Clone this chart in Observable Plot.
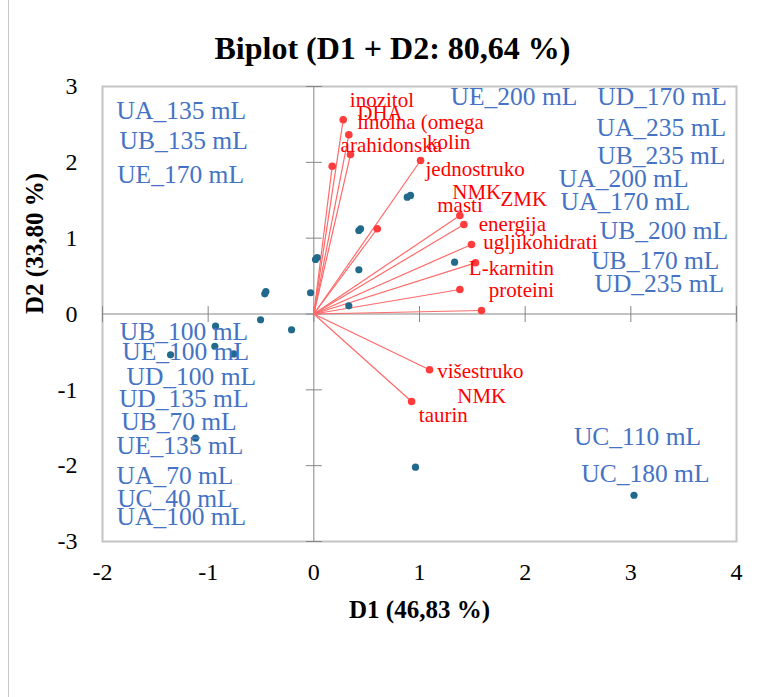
<!DOCTYPE html>
<html>
<head>
<meta charset="utf-8">
<script src="https://cdn.jsdelivr.net/npm/d3@7"></script>
<script src="https://cdn.jsdelivr.net/npm/@observablehq/plot@0.6"></script>
<style>
  html, body { margin: 0; padding: 0; background: #fff; }
  #wrap { position: relative; width: 764px; height: 697px; overflow: hidden; }
  #edge { position: absolute; left: 8px; top: 0; width: 1px; height: 697px; background: #c8c8c8; }
  #chart { position: absolute; left: 0; top: 0; }
  #chart svg text { font-family: "Liberation Serif", "Times New Roman", "DejaVu Serif", serif; }
</style>
</head>
<body>
<div id="wrap"><div id="edge"></div><div id="chart"></div></div>
<script>
// ---- Data ----
const titleText = "Biplot (D1 + D2: 80,64 %)";
const xTitle = "D1 (46,83 %)";
const yTitle = "D2 (33,80 %)";
const xTicks = [-2, -1, 0, 1, 2, 3, 4];
const yTicks = [-3, -2, -1, 0, 1, 2, 3];

// observation scores (blue dots)
const obsX = [0.016, 0.032, 0.426, 0.442, 0.426, 0.331, -0.031, -0.464, -0.454, -0.504, -0.211,
              -0.930, -0.937, -0.757, -1.356, -1.120, 0.884, 0.915, 1.332, 0.962, 3.030];
const obsY = [0.719, 0.745, 1.101, 1.124, 0.583, 0.108, 0.280, 0.266, 0.297, -0.076, -0.208,
              -0.161, -0.425, -0.527, -0.538, -1.638, 1.540, 1.563, 0.683, -2.020, -2.390];

// observation labels (as placed on the chart)
const obsLabels = [
  {label: "UA_135 mL", x: -1.867, y: 2.574},
  {label: "UB_135 mL", x: -1.839, y: 2.179},
  {label: "UE_170 mL", x: -1.861, y: 1.721},
  {label: "UE_200 mL", x: 1.294, y: 2.750},
  {label: "UD_170 mL", x: 2.682, y: 2.750},
  {label: "UA_235 mL", x: 2.675, y: 2.341},
  {label: "UB_235 mL", x: 2.682, y: 1.981},
  {label: "UA_200 mL", x: 2.319, y: 1.681},
  {label: "UA_170 mL", x: 2.335, y: 1.365},
  {label: "UB_200 mL", x: 2.707, y: 0.992},
  {label: "UB_170 mL", x: 2.625, y: 0.596},
  {label: "UD_235 mL", x: 2.656, y: 0.287},
  {label: "UB_100 mL", x: -1.836, y: -0.340},
  {label: "UE_100 mL", x: -1.813, y: -0.613},
  {label: "UD_100 mL", x: -1.773, y: -0.930},
  {label: "UD_135 mL", x: -1.845, y: -1.229},
  {label: "UB_70 mL", x: -1.823, y: -1.527},
  {label: "UE_135 mL", x: -1.867, y: -1.844},
  {label: "UA_70 mL", x: -1.867, y: -2.239},
  {label: "UC_40 mL", x: -1.861, y: -2.539},
  {label: "UA_100 mL", x: -1.867, y: -2.789},
  {label: "UC_110 mL", x: 2.461, y: -1.734},
  {label: "UC_180 mL", x: 2.531, y: -2.218}
];

// variable loadings (red vectors)
const varX = [0.278, 0.331, 0.347, 0.174, 1.010, 0.600, 1.382, 1.420, 1.492, 1.530, 1.382, 1.587, 1.095, 0.925];
const varY = [2.561, 2.363, 2.103, 1.949, 2.024, 1.124, 1.299, 1.180, 0.917, 0.675, 0.323, 0.046, -0.736, -1.154];

// variable labels (as placed on the chart)
const varLabels = [
  {label: "inozitol", x: 0.341, y: 2.736},
  {label: "DHA", x: 0.411, y: 2.561},
  {label: "linolna (omega", x: 0.411, y: 2.442},
  {label: "arahidonska", x: 0.253, y: 2.134},
  {label: "kolin", x: 1.072, y: 2.178},
  {label: "jednostruko", x: 1.057, y: 1.826},
  {label: "NMK", x: 1.310, y: 1.519},
  {label: "ZMK", x: 1.767, y: 1.418},
  {label: "masti", x: 1.168, y: 1.342},
  {label: "energija", x: 1.561, y: 1.101},
  {label: "ugljikohidrati", x: 1.603, y: 0.860},
  {label: "L-karnitin", x: 1.467, y: 0.508},
  {label: "proteini", x: 1.656, y: 0.222},
  {label: "višestruko", x: 1.168, y: -0.847},
  {label: "NMK", x: 1.357, y: -1.176},
  {label: "taurin", x: 0.994, y: -1.418}
];

// ---- Build tables ----
const obs = obsX.map((x, i) => ({x, y: obsY[i]}));
const vars = varX.map((x, i) => ({x, y: varY[i]}));

const vTick = {draw(ctx, size) { const r = Math.sqrt(size / Math.PI); ctx.moveTo(0, -r); ctx.lineTo(0, r); }};
const hTick = {draw(ctx, size) { const r = Math.sqrt(size / Math.PI); ctx.moveTo(-r, 0); ctx.lineTo(r, 0); }};
const fmt = d => (d < 0 ? "-" + Math.abs(d) : String(d));

const font = "Liberation Serif";

const chart = Plot.plot({
  width: 764,
  height: 697,
  marginLeft: 102,
  marginRight: 28,
  marginTop: 86,
  marginBottom: 156,
  style: {fontFamily: "'Liberation Serif', serif", fontSize: "24px", color: "#000", background: "transparent", overflow: "visible"},
  x: {domain: [-2, 4]},
  y: {domain: [-3, 3]},
  marks: [
    Plot.frame({stroke: "#c4c4c4", strokeWidth: 2}),
    Plot.axisX(xTicks, {tickSize: 0, tickPadding: 21, tickFormat: fmt, fontSize: 24, fontFamily: font, label: null}),
    Plot.axisY(yTicks, {tickSize: 0, tickPadding: 25, tickFormat: fmt, fontSize: 24, fontFamily: font, label: null}),
    Plot.ruleX([0], {stroke: "#878787", strokeWidth: 1}),
    Plot.ruleY([0], {stroke: "#878787", strokeWidth: 1}),
    Plot.dot(xTicks, {x: d => d, y: () => 0, symbol: vTick, r: 8, stroke: "#878787", fill: "none", strokeWidth: 1}),
    Plot.dot(yTicks, {x: () => 0, y: d => d, symbol: hTick, r: 8, stroke: "#878787", fill: "none", strokeWidth: 1}),
    Plot.link(vars, {x1: () => 0, y1: () => 0, x2: "x", y2: "y", stroke: "#ff6a6a", strokeWidth: 1.2}),
    Plot.dot(vars, {x: "x", y: "y", r: 3.8, fill: "#ff3c3c", stroke: "none"}),
    Plot.dot(obs, {x: "x", y: "y", r: 3.6, fill: "#226a8c", stroke: "none"}),
    Plot.text(varLabels, {x: "x", y: "y", text: "label", textAnchor: "start", lineAnchor: "bottom", fill: "#ff0000", fontSize: 21, fontFamily: font}),
    Plot.text(obsLabels, {x: "x", y: "y", text: "label", textAnchor: "start", lineAnchor: "bottom", fill: "#4472c4", fontSize: 25.5, fontFamily: font}),
    Plot.text([titleText], {frameAnchor: "top", text: d => d, dx: -27, dy: -28, lineAnchor: "bottom", fontSize: 32, fontWeight: "bold", fontFamily: font, fill: "#000"}),
    Plot.text([xTitle], {frameAnchor: "bottom", text: d => d, dy: 76, lineAnchor: "bottom", fontSize: 25, fontWeight: "bold", fontFamily: font, fill: "#000"}),
    Plot.text([yTitle], {frameAnchor: "left", text: d => d, dx: -60, rotate: -90, lineAnchor: "bottom", fontSize: 25, fontWeight: "bold", fontFamily: font, fill: "#000"})
  ]
});
document.getElementById("chart").appendChild(chart);
</script>
</body>
</html>
